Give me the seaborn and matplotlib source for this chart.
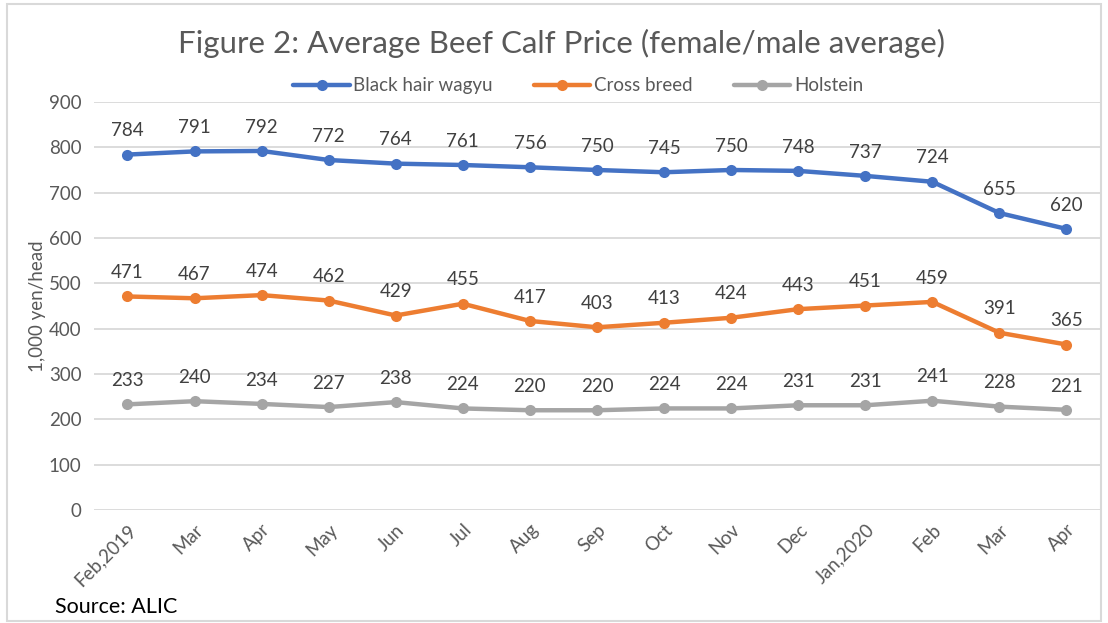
import matplotlib
matplotlib.use("Agg")
import matplotlib.pyplot as plt
import pandas as pd
import seaborn as sns
from matplotlib.patches import Rectangle

months = ["Feb,2019", "Mar", "Apr", "May", "Jun", "Jul", "Aug", "Sep",
          "Oct", "Nov", "Dec", "Jan,2020", "Feb", "Mar", "Apr"]
wagyu = [784, 791, 792, 772, 764, 761, 756, 750, 745, 750, 748, 737, 724, 655, 620]
cross = [471, 467, 474, 462, 429, 455, 417, 403, 413, 424, 443, 451, 459, 391, 365]
holstein = [233, 240, 234, 227, 238, 224, 220, 220, 224, 224, 231, 231, 241, 228, 221]
series_names = ["Black hair wagyu", "Cross breed", "Holstein"]
colors = ["#4472C4", "#ED7D31", "#A5A5A5"]

rows = []
for name, vals in zip(series_names, [wagyu, cross, holstein]):
    for i, v in enumerate(vals):
        rows.append({"idx": i, "price": v, "breed": name})
df = pd.DataFrame(rows)

sns.set_theme(style="white")
plt.rcParams["font.family"] = ["Lato", "DejaVu Sans"]
text_gray = "#595959"

fig = plt.figure(figsize=(11.08, 6.23), dpi=100)
ax = fig.add_axes([0.0848, 0.1814, 0.9080, 0.6549])

sns.lineplot(data=df, x="idx", y="price", hue="breed", palette=colors,
             hue_order=series_names, marker="o", markersize=8,
             markeredgewidth=0, linewidth=3.2, ax=ax, legend=False)

# value labels above each point
for vals, c in zip([wagyu, cross, holstein], colors):
    for i, v in enumerate(vals):
        ax.annotate(str(v), (i, v), xytext=(0, 11), textcoords="offset points",
                    ha="center", va="bottom", fontsize=13.5, color="#404040")

ax.set_xlim(-0.5, len(months) - 0.5)
ax.set_ylim(0, 900)
ax.set_yticks(range(0, 901, 100))
ax.set_xticks(range(len(months)))
ax.set_xticklabels(months, rotation=45, ha="right", rotation_mode="anchor")
ax.tick_params(axis="both", labelsize=13.5, colors=text_gray, length=0)
ax.tick_params(axis="x", pad=8)
ax.tick_params(axis="y", pad=9)
ax.grid(axis="y", color="#D9D9D9", linewidth=1.3)
ax.set_axisbelow(True)
for s in ax.spines.values():
    s.set_visible(False)
ax.set_xlabel("")
ax.set_ylabel("1,000 yen/head", fontsize=13.5, color=text_gray, labelpad=2)

handles = [plt.Line2D([], [], color=c, linewidth=3.2, marker="o",
                      markersize=8, markeredgewidth=0) for c in colors]
fig.legend(handles, series_names, loc="center", bbox_to_anchor=(0.522, 0.862),
           ncol=3, frameon=False, fontsize=13.5, handlelength=3.0,
           handletextpad=0.2, columnspacing=2.2, labelcolor=text_gray)

fig.text(0.507, 0.93, "Figure 2: Average Beef Calf Price (female/male average)",
         ha="center", va="center", fontsize=22.5, color=text_gray)
fig.text(0.05, 0.025, "Source: ALIC", ha="left", va="center",
         fontsize=15.5, color="black")

fig.patches.append(Rectangle((0.006, 0.003), 0.988, 0.99, transform=fig.transFigure,
                             fill=False, edgecolor="#D9D9D9", linewidth=1.5))

fig.savefig("out.png", dpi=100)
